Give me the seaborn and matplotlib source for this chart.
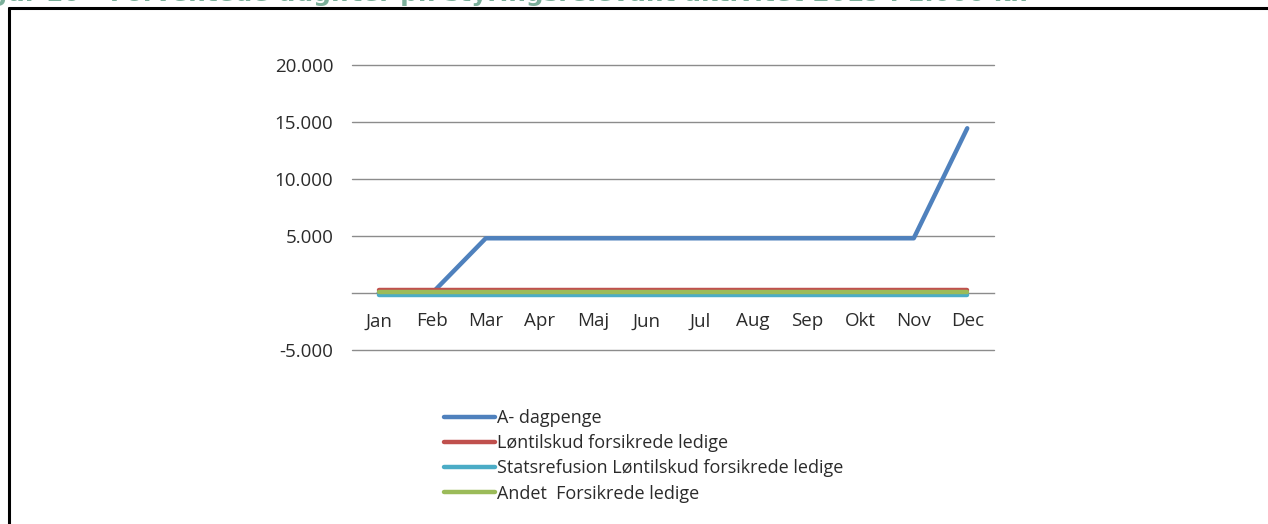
import pandas as pd
import matplotlib
matplotlib.use("Agg")
import matplotlib.pyplot as plt
import seaborn as sns
from matplotlib.ticker import FixedLocator, FuncFormatter

# --- data (1.000 kr.) ---
months = ["Jan", "Feb", "Mar", "Apr", "Maj", "Jun", "Jul", "Aug", "Sep", "Okt", "Nov", "Dec"]
a_dagpenge = [0, 0, 4800, 4800, 4800, 4800, 4800, 4800, 4800, 4800, 4800, 14450]
loentilskud = [250, 250, 250, 250, 250, 250, 250, 250, 250, 250, 250, 250]
statsrefusion = [-150, -150, -150, -150, -150, -150, -150, -150, -150, -150, -150, -150]
andet = [50, 50, 50, 50, 50, 50, 50, 50, 50, 50, 50, 50]

series_names = [
    "A- dagpenge",
    "Løntilskud forsikrede ledige",
    "Statsrefusion Løntilskud forsikrede ledige",
    "Andet  Forsikrede ledige",
]
series_colors = ["#4F81BD", "#C0504D", "#4BACC6", "#9BBB59"]
y_ticks = [-5000, 0, 5000, 10000, 15000, 20000]

df = pd.concat([
    pd.DataFrame({"month": months, "value": vals, "serie": name})
    for name, vals in zip(series_names, [a_dagpenge, loentilskud, statsrefusion, andet])
])

sns.set_theme(style="white")
plt.rcParams["font.family"] = ["Open Sans", "DejaVu Sans"]
txt_color = "#2b2b2b"

fig = plt.figure(figsize=(12.68, 5.24), dpi=100)
ax = fig.add_axes([352 / 1268, 1 - 350 / 524, 642 / 1268, 285 / 524])

sns.lineplot(data=df, x="month", y="value", hue="serie", hue_order=series_names,
             palette=series_colors, linewidth=3.2, sort=False, ax=ax, legend=False)

ax.set_xlim(-0.5, len(months) - 0.5)
ax.set_ylim(-5000, 20000)
ax.set_xlabel("")
ax.set_ylabel("")

# gridlines like Excel
for v in y_ticks:
    if v != 0:
        ax.axhline(v, color="#8C8C8C", lw=1.0, zorder=0, clip_on=False)

for s in ["top", "right", "left"]:
    ax.spines[s].set_visible(False)
ax.spines["bottom"].set_position(("data", 0))
ax.spines["bottom"].set_color("#8C8C8C")
ax.spines["bottom"].set_linewidth(1.0)
ax.spines["bottom"].set_zorder(0)

ax.yaxis.set_major_locator(FixedLocator(y_ticks))
ax.yaxis.set_major_formatter(FuncFormatter(
    lambda v, p: "" if v == 0 else f"{int(v):,}".replace(",", ".")))
ax.tick_params(axis="y", length=0, pad=13.5, labelsize=13.5, labelcolor=txt_color)

ax.set_xticks(range(len(months)))
ax.set_xticklabels(months)
ax.xaxis.set_minor_locator(FixedLocator([i - 0.5 for i in range(len(months) + 1)]))
ax.tick_params(axis="x", which="major", length=0, pad=14, labelsize=13.5, labelcolor=txt_color)
ax.tick_params(axis="x", which="minor", length=5, width=1.0, color="#8C8C8C", direction="out")

# legend below the plot
handles = [plt.Line2D([], [], color=c, lw=3.2) for c in series_colors]
leg = fig.legend(handles, series_names, loc="upper left",
                 bbox_to_anchor=(444 / 1268, 1 - 409 / 524),
                 frameon=False, fontsize=13, handlelength=2.85, handletextpad=0.1,
                 labelspacing=0.4, borderaxespad=0, borderpad=0)
for t in leg.get_texts():
    t.set_color(txt_color)

# outer frame (open at the bottom)
fig.add_artist(plt.Line2D([9 / 1268, 9 / 1268], [0, 1 - 8 / 524], color="black", lw=2.2,
                          transform=fig.transFigure))
fig.add_artist(plt.Line2D([9 / 1268, 1], [1 - 8 / 524, 1 - 8 / 524], color="black", lw=2.2,
                          transform=fig.transFigure))

# heading, cut off at the top edge as in the source screenshot
fig.text(-36 / 1268, 1 + 5.5 / 524,
         "Figur 10 – Forventede udgifter pr. styringsrelevant aktivitet 2019 i 1.000 kr.",
         color="#7BAF9A", fontweight="bold", fontsize=17.8, family="DejaVu Sans",
         ha="left", va="center")

fig.savefig("out.png", dpi=100)
